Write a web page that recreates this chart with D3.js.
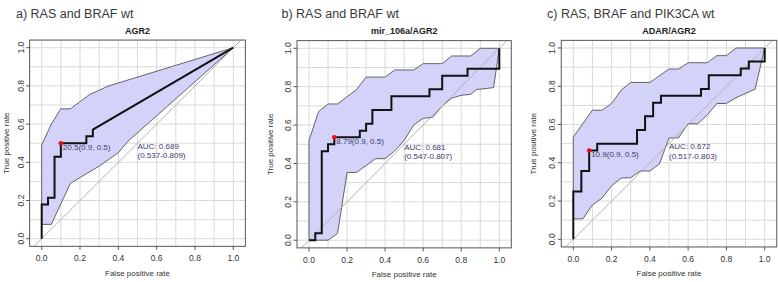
<!DOCTYPE html>
<html>
<head>
<meta charset="utf-8">
<script src="https://cdn.jsdelivr.net/npm/d3@7"></script>
<style>
    body { margin: 0; background: #fff; }
    svg { font-family: "Liberation Sans", Arial, sans-serif; }
    .grid line { stroke: #d9d9d9; stroke-width: 1; }
    .band { fill: #d3d3fa; stroke: #555; stroke-width: 0.9; }
    .diag { stroke: #aaa; stroke-width: 0.9; }
    .roc { fill: none; stroke: #111; stroke-width: 2; }
    .frame { fill: none; stroke: #555; stroke-width: 1; }
    .tick { font-size: 8.5px; fill: #333; }
    .lab { font-size: 8px; fill: #333; }
    .note { font-size: 8px; fill: #3a3a6e; }
</style>
</head>
<body>
<svg id="chart" width="778" height="282"></svg>
<script>
    // --- data (x = false positive rate, y = true positive rate) ---
    const panelTitles = ["a) RAS and BRAF wt", "b) RAS and BRAF wt", "c) RAS, BRAF and PIK3CA wt"];
    const markerNames = ["AGR2", "mir_106a/AGR2", "ADAR/AGR2"];
    const aucLabels = ["AUC: 0.689", "AUC: 0.681", "AUC: 0.672"];
    const ciLabels = ["(0.537-0.809)", "(0.547-0.807)", "(0.517-0.803)"];
    const thresholdLabels = ["20.5(0.9, 0.5)", "8.79(0.9, 0.5)", "10.9(0.9, 0.5)"];
    const tickValues = [0, 0.2, 0.4, 0.6, 0.8, 1.0];

    // ROC step curves
    const rocA = [[0, 0], [0, 0.179], [0.033, 0.179], [0.033, 0.214], [0.067, 0.214], [0.067, 0.429],
        [0.1, 0.429], [0.1, 0.5], [0.233, 0.5], [0.233, 0.536], [0.267, 0.536], [0.267, 0.571], [1, 1]];
    const rocB = [[0, 0], [0.033, 0], [0.033, 0.036], [0.067, 0.036], [0.067, 0.464], [0.1, 0.464],
        [0.1, 0.5], [0.133, 0.5], [0.133, 0.536], [0.267, 0.536], [0.267, 0.571], [0.3, 0.571],
        [0.3, 0.607], [0.333, 0.607], [0.333, 0.679], [0.433, 0.679], [0.433, 0.75], [0.633, 0.75],
        [0.633, 0.786], [0.7, 0.786], [0.7, 0.857], [0.833, 0.857], [0.833, 0.893], [1, 0.893], [1, 1]];
    const rocC = [[0, 0], [0, 0.25], [0.042, 0.25], [0.042, 0.357], [0.083, 0.357], [0.083, 0.464],
        [0.125, 0.464], [0.125, 0.5], [0.333, 0.5], [0.333, 0.571], [0.375, 0.571], [0.375, 0.643],
        [0.417, 0.643], [0.417, 0.714], [0.458, 0.714], [0.458, 0.75], [0.667, 0.75], [0.667, 0.786],
        [0.708, 0.786], [0.708, 0.857], [0.875, 0.857], [0.875, 0.893], [0.917, 0.893], [0.917, 0.929],
        [1, 0.929], [1, 1]];

    // confidence band edges
    const upperA = [[0, 0.49], [0.05, 0.6], [0.1, 0.68], [0.15, 0.68], [0.25, 0.755], [0.35, 0.8], [1, 1]];
    const lowerA = [[0, 0.075], [0.05, 0.075], [0.15, 0.29], [0.2, 0.32], [0.3, 0.38], [0.4, 0.45],
        [0.45, 0.51], [1, 1]];
    const upperB = [[0, 0.52], [0.05, 0.67], [0.1, 0.71], [0.15, 0.71], [0.25, 0.785], [0.3, 0.85],
        [0.4, 0.85], [0.45, 0.887], [0.55, 0.887], [0.6, 0.92], [0.7, 0.92], [0.75, 0.96], [0.85, 0.96],
        [0.9, 1], [1, 1]];
    const lowerB = [[0, 0], [0.1, 0], [0.15, 0.035], [0.2, 0.353], [0.25, 0.353], [0.35, 0.425],
        [0.4, 0.425], [0.45, 0.465], [0.5, 0.52], [0.55, 0.6], [0.6, 0.635], [0.65, 0.64], [0.7, 0.7],
        [0.75, 0.74], [0.8, 0.755], [0.85, 0.76], [0.88, 0.785], [0.97, 0.795], [1, 1]];
    const upperC = [[0, 0.535], [0.1, 0.675], [0.15, 0.675], [0.2, 0.71], [0.25, 0.78], [0.3, 0.82],
        [0.4, 0.82], [0.5, 0.89], [0.55, 0.89], [0.6, 0.923], [0.7, 0.923], [0.75, 0.96], [0.8, 0.96],
        [0.85, 1], [1, 1]];
    const lowerC = [[0, 0.107], [0.05, 0.107], [0.1, 0.18], [0.15, 0.215], [0.2, 0.28], [0.25, 0.32],
        [0.3, 0.322], [0.35, 0.357], [0.4, 0.357], [0.45, 0.394], [0.5, 0.53], [0.55, 0.53], [0.6, 0.604],
        [0.65, 0.604], [0.7, 0.65], [0.75, 0.71], [0.8, 0.71], [0.85, 0.74], [0.95, 0.785], [1, 1]];

    // best threshold points
    const bestPoints = [[0.1, 0.5], [0.133, 0.536], [0.083, 0.464]];

    const rocCurves = [rocA, rocB, rocC];
    const upperBands = [upperA, upperB, upperC];
    const lowerBands = [lowerA, lowerB, lowerC];

    (function () {
        const svg = d3.select("#chart");

        // pixel placement of each panel: where fpr 0..1 and tpr 0..1 land
        const layout = [
            { left: 41.7, right: 233.3, bottom: 238.7, top: 47.7, titleX: 16, yLabX: 6 },
            { left: 309, right: 499.3, bottom: 240.2, top: 48.3, titleX: 281.5, yLabX: 270 },
            { left: 573.3, right: 764.7, bottom: 239.3, top: 48, titleX: 547, yLabX: 533 }
        ];

        layout.forEach((L, i) => {
            const x = d3.scaleLinear().domain([0, 1]).range([L.left, L.right]);
            const y = d3.scaleLinear().domain([0, 1]).range([L.bottom, L.top]);
            const xMin = x(-0.063), xMax = x(1.063), yMin = y(-0.04), yMax = y(1.04);

            const g = svg.append("g");
            const clipId = "clip" + i;
            g.append("clipPath").attr("id", clipId)
                .append("rect")
                .attr("x", xMin).attr("y", yMax)
                .attr("width", xMax - xMin).attr("height", yMin - yMax);

            // panel heading
            svg.append("text")
                .attr("x", L.titleX).attr("y", 17.5)
                .style("font-size", "12.5px").style("fill", "#3a3a3a")
                .text(panelTitles[i]);

            // plot title
            g.append("text")
                .attr("x", x(0.5)).attr("y", 34)
                .attr("text-anchor", "middle")
                .style("font-size", "9px").style("font-weight", "bold").style("fill", "#222")
                .text(markerNames[i]);

            // grid every 0.1
            const gridVals = d3.range(0, 1.0001, 0.1);
            const grid = g.append("g").attr("class", "grid");
            grid.selectAll(".gv").data(gridVals).enter().append("line")
                .attr("x1", d => x(d)).attr("x2", d => x(d))
                .attr("y1", yMin).attr("y2", yMax);
            grid.selectAll(".gh").data(gridVals).enter().append("line")
                .attr("y1", d => y(d)).attr("y2", d => y(d))
                .attr("x1", xMin).attr("x2", xMax);

            const line = d3.line().x(d => x(d[0])).y(d => y(d[1]));

            // CI band: upper edge forward, lower edge back
            const band = upperBands[i].concat(lowerBands[i].slice().reverse());
            g.append("path")
                .attr("class", "band")
                .attr("d", line(band) + "Z");

            // chance diagonal
            g.append("line")
                .attr("class", "diag")
                .attr("clip-path", `url(#${clipId})`)
                .attr("x1", x(-0.1)).attr("y1", y(-0.1))
                .attr("x2", x(1.1)).attr("y2", y(1.1));

            // ROC curve
            g.append("path")
                .attr("class", "roc")
                .attr("d", line(rocCurves[i]));

            // best threshold
            const bp = bestPoints[i];
            g.append("circle")
                .attr("cx", x(bp[0])).attr("cy", y(bp[1]))
                .attr("r", 2.3).style("fill", "#e8121a");
            g.append("text")
                .attr("class", "note")
                .attr("x", x(bp[0]) + 2).attr("y", y(bp[1]) + 6.5)
                .text(thresholdLabels[i]);

            // AUC text
            g.append("text").attr("class", "note")
                .attr("x", x(0.5)).attr("y", y(0.5) + 5.5)
                .text(aucLabels[i]);
            g.append("text").attr("class", "note")
                .attr("x", x(0.5)).attr("y", y(0.5) + 15)
                .text(ciLabels[i]);

            // frame
            g.append("rect")
                .attr("class", "frame")
                .attr("x", xMin).attr("y", yMax)
                .attr("width", xMax - xMin).attr("height", yMin - yMax);

            // x axis
            const xa = g.append("g");
            xa.selectAll("line").data(tickValues).enter().append("line")
                .attr("x1", d => x(d)).attr("x2", d => x(d))
                .attr("y1", yMin).attr("y2", yMin + 3.5)
                .style("stroke", "#555");
            xa.selectAll("text").data(tickValues).enter().append("text")
                .attr("class", "tick")
                .attr("x", d => x(d)).attr("y", yMin + 15)
                .attr("text-anchor", "middle")
                .text(d => d.toFixed(1));
            g.append("text").attr("class", "lab")
                .attr("x", x(0.5)).attr("y", yMin + 29.5)
                .attr("text-anchor", "middle")
                .text("False positive rate");

            // y axis (labels rotated like base R)
            const ya = g.append("g");
            ya.selectAll("line").data(tickValues).enter().append("line")
                .attr("y1", d => y(d)).attr("y2", d => y(d))
                .attr("x1", xMin).attr("x2", xMin - 3.5)
                .style("stroke", "#555");
            ya.selectAll("text").data(tickValues).enter().append("text")
                .attr("class", "tick")
                .attr("transform", d => `translate(${xMin - 6},${y(d)}) rotate(-90)`)
                .attr("text-anchor", "middle")
                .text(d => d.toFixed(1));
            g.append("text").attr("class", "lab")
                .attr("transform", `translate(${L.yLabX + 3},${y(0.5)}) rotate(-90)`)
                .attr("text-anchor", "middle")
                .text("True positive rate");
        });
    })();
</script>
</body>
</html>
